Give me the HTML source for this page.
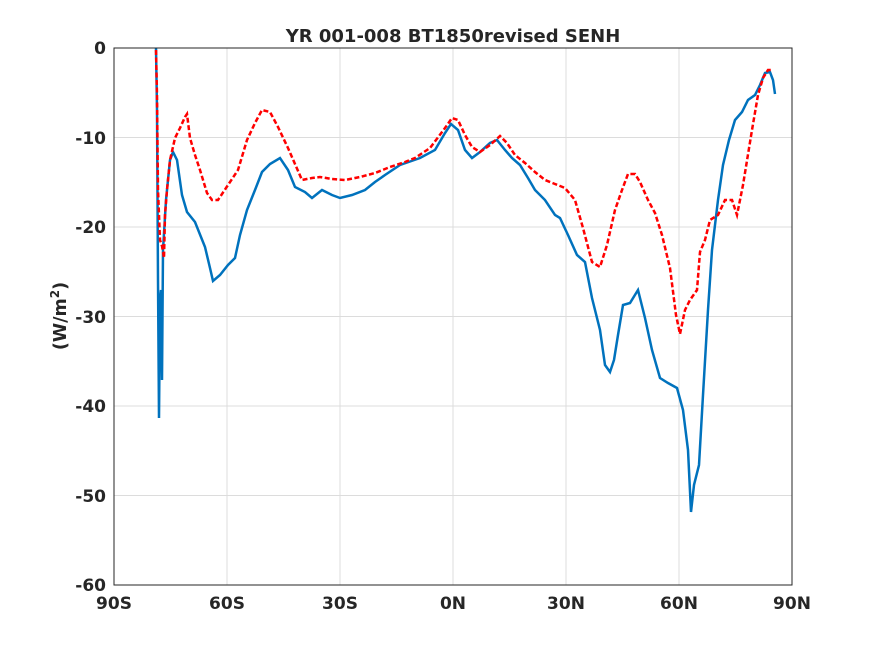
<!DOCTYPE html>
<html><head><style>body{margin:0;background:#fff}svg{display:block}text{font-family:"DejaVu Sans","Liberation Sans",sans-serif;font-weight:bold;fill:#262626}</style></head><body>
<svg width="875" height="656" viewBox="0 0 875 656">
<rect x="114" y="48" width="678" height="537" fill="#fff"/>
<g stroke="#dcdcdc" stroke-width="1">
<line x1="227" y1="48" x2="227" y2="585"/><line x1="340" y1="48" x2="340" y2="585"/><line x1="453" y1="48" x2="453" y2="585"/><line x1="566" y1="48" x2="566" y2="585"/><line x1="679" y1="48" x2="679" y2="585"/>
<line x1="114" y1="137.5" x2="792" y2="137.5"/><line x1="114" y1="227" x2="792" y2="227"/><line x1="114" y1="316.5" x2="792" y2="316.5"/><line x1="114" y1="406" x2="792" y2="406"/><line x1="114" y1="495.5" x2="792" y2="495.5"/>
</g>
<polyline fill="none" stroke="#0072bd" stroke-width="2.5" points="156,48 157,110 158,280 159,418 160,300 161,290 162,380 163,250 166,200 170,160 173,152 177,160 182,195 187,212 195,222 205,247 210,268 213,281 220,275 228,265 235,258 240,235 247,210 255,190 262,172 270,164 280,158 288,170 295,187 305,192 312,198 322,190 332,195 340,198 352,195 365,190 375,182 385,175 400,165 420,158 435,150 445,133 451,124 458,130 465,150 472,158 480,152 490,143 497,140 505,150 512,158 520,165 528,178 535,190 545,200 555,215 560,218 568,235 577,255 585,262 592,298 600,330 605,365 610,372 614,360 618,335 623,305 630,303 638,290 645,318 652,350 660,378 668,383 677,388 683,410 688,450 691,512 694,485 699,465 703,395 708,310 712,250 718,200 723,165 729,140 735,120 742,112 748,100 755,95 760,85 765,73 770,72 773,80 775,94"/>
<polyline fill="none" stroke="#ff0000" stroke-width="2.5" stroke-dasharray="5,2.5" points="156,50 157,95 158,190 160,240 162,246 164,258 165,215 167,190 170,160 175,138 180,128 185,117 187,114 190,138 195,155 200,170 207,193 212,200 218,200 228,185 238,170 247,140 255,123 262,110 270,112 278,127 288,148 302,180 312,178 320,177 332,179 345,180 360,177 375,173 390,167 405,162 415,158 430,148 445,128 452,118 458,120 465,135 472,147 480,152 490,145 500,136 507,143 515,155 525,163 535,172 545,180 555,184 565,188 575,200 583,228 592,262 600,267 607,245 615,210 622,190 628,174 635,174 640,182 648,200 655,213 662,235 670,268 676,315 680,334 685,310 690,300 697,290 700,252 705,240 710,220 718,215 725,200 732,200 737,215 743,185 752,130 758,95 763,78 768,70 773,70"/>
<rect x="114" y="48" width="678" height="537" fill="none" stroke="#262626" stroke-width="1"/>
<g font-size="17" text-anchor="middle">
<text x="114" y="609">90S</text><text x="227" y="609">60S</text><text x="340" y="609">30S</text><text x="453" y="609">0N</text><text x="566" y="609">30N</text><text x="679" y="609">60N</text><text x="792" y="609">90N</text>
</g>
<g font-size="17" text-anchor="end">
<text x="106" y="54">0</text><text x="106" y="144">-10</text><text x="106" y="233">-20</text><text x="106" y="323">-30</text><text x="106" y="412">-40</text><text x="106" y="502">-50</text><text x="106" y="591">-60</text>
</g>
<text x="453" y="42" font-size="18" text-anchor="middle">YR 001-008 BT1850revised SENH</text>
<text transform="translate(66,316) rotate(-90)" font-size="17.5" text-anchor="middle">(W/m<tspan font-size="12" dy="-7">2</tspan><tspan dy="7">)</tspan></text>
</svg>
</body></html>
